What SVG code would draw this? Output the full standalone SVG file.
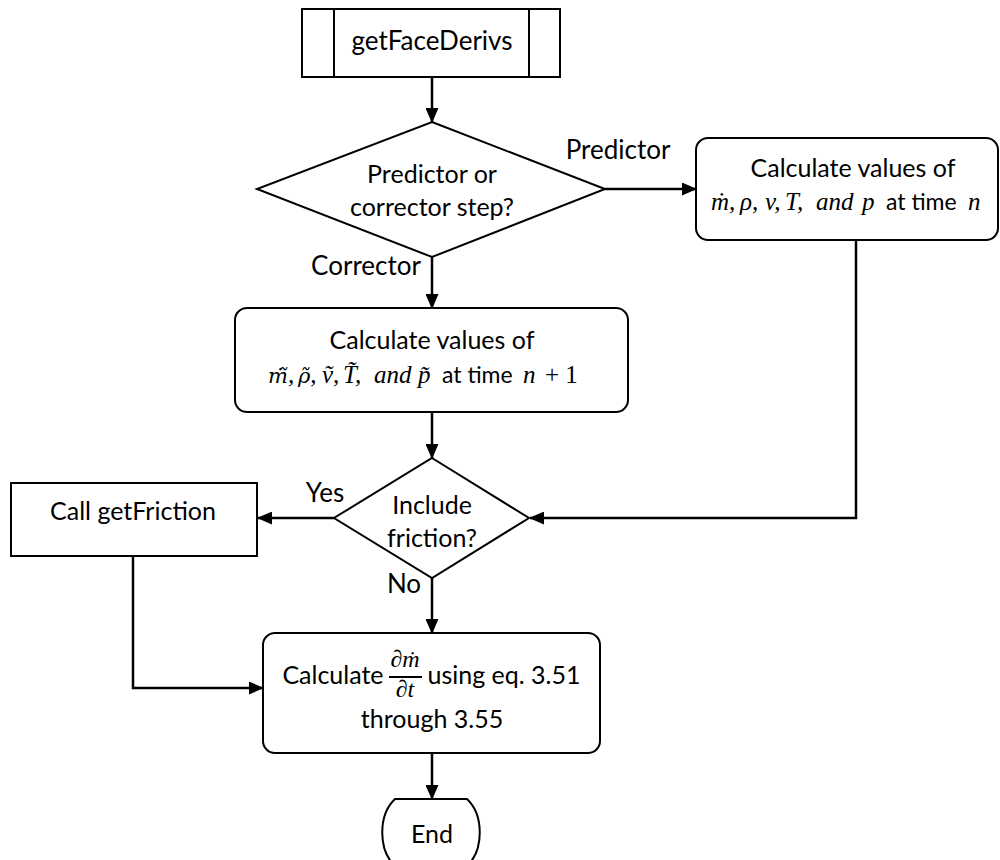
<svg xmlns="http://www.w3.org/2000/svg" width="1000" height="860" viewBox="0 0 1000 860">
<style>
.shape{fill:#fff;stroke:#000;stroke-width:2}
.conn{fill:none;stroke:#000;stroke-width:2.5}
.t{font-family:"Lato","Liberation Sans",sans-serif;font-size:25px;fill:#000;text-anchor:middle}
.ts{font-family:"Lato","Liberation Sans",sans-serif;font-size:23px;fill:#000}
.lbl{font-family:"Lato","Liberation Sans",sans-serif;font-size:26px;fill:#000;text-anchor:middle}
.m{font-family:"Liberation Serif",serif;font-style:italic;font-size:25px;fill:#000}
.mu{font-family:"Liberation Serif",serif;font-size:25px;fill:#000}
.dv{font-family:"DejaVu Serif",serif;font-size:21px}
.fr{font-family:"Liberation Serif",serif;font-style:italic;font-size:24px;fill:#000;text-anchor:middle}
</style>
<defs>
<marker id="arr" markerWidth="15" markerHeight="13" refX="14" refY="6.5" orient="auto" markerUnits="userSpaceOnUse">
<path d="M0,0 L15,6.5 L0,13 Z" fill="#000"/>
</marker>
</defs>
<rect width="1000" height="860" fill="#fff"/>
<g id="connectors">
<line class="conn" x1="432" y1="77" x2="432" y2="122" marker-end="url(#arr)"/>
<line class="conn" x1="605" y1="189" x2="696" y2="189" marker-end="url(#arr)"/>
<line class="conn" x1="432" y1="257" x2="432" y2="308" marker-end="url(#arr)"/>
<line class="conn" x1="432" y1="412" x2="432" y2="458" marker-end="url(#arr)"/>
<polyline class="conn" points="856,240 856,518 530,518" marker-end="url(#arr)"/>
<line class="conn" x1="334" y1="518" x2="258" y2="518" marker-end="url(#arr)"/>
<line class="conn" x1="432" y1="578" x2="432" y2="633" marker-end="url(#arr)"/>
<polyline class="conn" points="133,556 133,688 263,688" marker-end="url(#arr)"/>
<line class="conn" x1="432" y1="753" x2="432" y2="799" marker-end="url(#arr)"/>
<text class="lbl" x="618" y="159">Predictor</text>
<text class="lbl" x="366" y="275">Corrector</text>
<text class="lbl" x="325" y="502">Yes</text>
<text class="lbl" x="404" y="593">No</text>
</g>
<g id="start">
<rect class="shape" x="302" y="9" width="258" height="68"/>
<line class="shape" x1="334" y1="9" x2="334" y2="77"/>
<line class="shape" x1="529" y1="9" x2="529" y2="77"/>
<text class="lbl" x="432" y="50">getFaceDerivs</text>
</g>
<g id="decision1">
<polygon class="shape" points="432,122 605,189 432,257 257,189"/>
<text class="t" x="432" y="183">Predictor or</text>
<text class="t" x="432" y="216">corrector step?</text>
</g>
<g id="predictor">
<rect class="shape" x="696" y="138" width="302" height="102" rx="12"/>
<text class="t" x="853" y="177">Calculate values of</text>
<text class="m" y="210"><tspan x="711">ṁ,</tspan><tspan x="740">ρ,</tspan><tspan x="765">v,</tspan><tspan x="785">T,</tspan><tspan x="816">and</tspan><tspan x="862">p</tspan></text>
<text class="ts" x="886" y="210">at time</text>
<text class="m" x="968" y="210">n</text>
</g>
<g id="corrector">
<rect class="shape" x="235" y="308" width="393" height="104" rx="12"/>
<text class="t" x="432" y="349">Calculate values of</text>
<text class="m" y="383"><tspan x="268" class="dv">ṁ̃</tspan><tspan>,</tspan><tspan x="298" class="dv">ρ̃</tspan><tspan>,</tspan><tspan x="322">ṽ,</tspan><tspan x="343">T̃,</tspan><tspan x="374">and</tspan><tspan x="418">p̃</tspan></text>
<text class="ts" x="442" y="383">at time</text>
<text class="m" x="523" y="383">n</text>
<text class="mu" x="545" y="383">+ 1</text>
</g>
<g id="decision2">
<polygon class="shape" points="432,458 529,518 432,578 334,518"/>
<text class="t" x="432" y="514">Include</text>
<text class="t" x="432" y="547">friction?</text>
</g>
<g id="friction">
<rect class="shape" x="11" y="483" width="246" height="73"/>
<text class="t" x="133" y="520">Call getFriction</text>
</g>
<g id="calcderiv">
<rect class="shape" x="263" y="633" width="337" height="120" rx="12"/>
<text class="t" x="333" y="684">Calculate</text>
<text class="fr" x="405" y="667">∂ṁ</text>
<line x1="389" y1="677" x2="422" y2="677" stroke="#000" stroke-width="1.8"/>
<text class="fr" x="405" y="697">∂t</text>
<text class="t" x="504" y="684">using eq. 3.51</text>
<text class="t" x="432" y="728">through 3.55</text>
</g>
<g id="end">
<path class="shape" d="M395,799 L467,799 C484,815 484,850 467,866 L395,866 C378,850 378,815 395,799 Z"/>
<text class="t" x="432" y="843">End</text>
</g>
</svg>
